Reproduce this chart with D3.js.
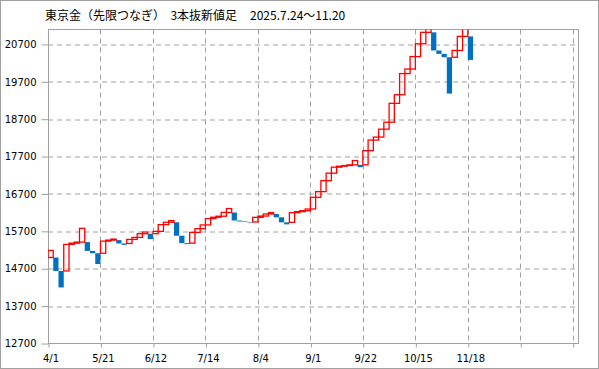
<!DOCTYPE html>
<html>
<head>
<meta charset="utf-8">
<script src="https://cdn.jsdelivr.net/npm/d3@7"></script>
<style>
  body { margin: 0; background: #fff; }
  svg { display: block; }
  .axis text { font-family: "DejaVu Sans", sans-serif; font-size: 10px; fill: #000; }
  .axis path { display: none; }
  .axis line { stroke: #a0a0a0; }
</style>
</head>
<body>
<div class="chart"></div>
<script>
// three line break columns (open / close of each line)
var lineOpen = [
    15000, 15000, 14640, 14640, 15350, 15385, 15412, 15412, 15177, 15114,
    15114, 15439, 15466, 15466, 15376, 15376, 15484, 15538, 15637, 15637,
    15637, 15700, 15880, 15943, 15943, 15583, 15385, 15385, 15673, 15772,
    15871, 16042, 16078, 16105, 16205, 16205, 15990, 15965, 15950, 15950,
    16075, 16110, 16164, 16164, 16075, 15941, 15941, 16200, 16227, 16253,
    16298, 16611, 16763, 17057, 17257, 17417, 17443, 17461, 17479, 17479,
    17479, 17859, 18142, 18222, 18434, 18620, 19125, 19355, 19921, 20043,
    20376, 20718, 21024, 21024, 20538, 20448, 20358, 20358, 20538, 20916,
    20916
];
var lineClose = [
    15190, 14640, 14200, 15350, 15385, 15412, 15781, 15177, 15114, 14826,
    15439, 15466, 15493, 15376, 15340, 15484, 15538, 15637, 15682, 15493,
    15700, 15880, 15943, 15988, 15583, 15385, 15358, 15673, 15772, 15871,
    16042, 16078, 16105, 16205, 16310, 15990, 15965, 15950, 15935, 16075,
    16110, 16164, 16200, 16075, 15941, 15887, 16200, 16227, 16253, 16298,
    16611, 16763, 17057, 17257, 17417, 17443, 17461, 17479, 17594, 17417,
    17859, 18142, 18222, 18434, 18620, 19125, 19355, 19921, 20043, 20376,
    20718, 21024, 21200, 20538, 20448, 20358, 19386, 20538, 20916, 21250,
    20286
];
var tickCols = [0, 10, 20, 30, 40, 50, 60, 70, 80, 90, 100];
var tickLabels = ["4/1", "5/21", "6/12", "7/14", "8/4", "9/1", "9/22", "10/15", "11/18", "", ""];
var yTicks = [12700, 13700, 14700, 15700, 16700, 17700, 18700, 19700, 20700];
var titleMain = "東京金（先限つなぎ）  3本抜新値足";
var titleDates = "2025.7.24〜11.20";

var svgWidth = 599, svgHeight = 369;
var margin = { top: 29.5, right: 21, bottom: 25.5, left: 48 };
var width = svgWidth - margin.left - margin.right;
var height = svgHeight - margin.top - margin.bottom;

var svg = d3.select(".chart")
    .append("svg")
    .attr("width", svgWidth)
    .attr("height", svgHeight);

// outer border
svg.append("rect")
    .attr("x", 0.5).attr("y", 0.5)
    .attr("width", svgWidth - 1).attr("height", svgHeight - 1)
    .attr("fill", "none")
    .attr("stroke", "#a0a0a0");

var titleText = svg.append("text")
    .attr("x", 45)
    .attr("y", 20)
    .style("font-family", "'Noto Sans CJK JP', sans-serif")
    .style("font-size", "12px")
    .style("white-space", "pre");
titleText.append("tspan").text(titleMain);
titleText.append("tspan").attr("x", 250).text(titleDates);

var chartGroup = svg.append("g")
    .attr("transform", `translate(${margin.left}, ${margin.top})`);

var xScale = d3.scaleLinear()
    .domain([0, 101])
    .range([0, width]);

var yScale = d3.scaleLinear()
    .domain([12700, 21100])
    .range([height, 0]);

// gridlines
chartGroup.append("g")
    .attr("class", "grid")
    .selectAll("line.h")
    .data(yTicks.slice(1))
    .enter()
    .append("line")
    .attr("x1", 0).attr("x2", width)
    .attr("y1", d => Math.round(yScale(d)) + 0.5)
    .attr("y2", d => Math.round(yScale(d)) + 0.5)
    .attr("stroke", "#a0a0a0")
    .attr("stroke-dasharray", "5,4");

chartGroup.append("g")
    .attr("class", "grid")
    .selectAll("line.v")
    .data(tickCols.slice(1))
    .enter()
    .append("line")
    .attr("y1", 0).attr("y2", height)
    .attr("x1", d => Math.round(xScale(d)) + 0.5)
    .attr("x2", d => Math.round(xScale(d)) + 0.5)
    .attr("stroke", "#a0a0a0")
    .attr("stroke-dasharray", "5,4");

// axes
var leftAxis = d3.axisLeft(yScale)
    .tickValues(yTicks)
    .tickSize(7)
    .tickPadding(5)
    .tickFormat(d3.format("d"))
    .offset(0.5);

chartGroup.append("g")
    .attr("class", "axis")
    .attr("transform", "translate(0.5, 0)")
    .call(leftAxis);

var bottomAxis = d3.axisBottom(xScale)
    .tickValues(tickCols)
    .tickSize(4)
    .tickPadding(7)
    .tickFormat((d, i) => tickLabels[i]);

chartGroup.append("g")
    .attr("class", "axis")
    .attr("transform", `translate(0.5, ${height})`)
    .call(bottomAxis)
    .selectAll("text")
    .attr("dx", 2);

// plot frame
chartGroup.append("rect")
    .attr("x", 0.5).attr("y", 0)
    .attr("width", width).attr("height", height)
    .attr("fill", "none")
    .attr("stroke", "#a0a0a0");

svg.append("clipPath")
    .attr("id", "plotClip")
    .append("rect")
    .attr("x", 0).attr("y", 0)
    .attr("width", width + 1).attr("height", height);

var cols = lineOpen.map((o, i) => ({ i: i, open: o, close: lineClose[i] }));

var boxGroup = chartGroup.append("g")
    .attr("clip-path", "url(#plotClip)");

// falling lines: solid blue
boxGroup.selectAll("rect.down")
    .data(cols.filter(d => d.close < d.open))
    .enter()
    .append("rect")
    .attr("x", d => xScale(d.i))
    .attr("width", d => xScale(d.i + 1) - xScale(d.i))
    .attr("y", d => yScale(d.open))
    .attr("height", d => yScale(d.close) - yScale(d.open))
    .attr("fill", "#0070c0");

// rising lines: hollow red
boxGroup.selectAll("rect.up")
    .data(cols.filter(d => d.close >= d.open))
    .enter()
    .append("rect")
    .attr("x", d => xScale(d.i))
    .attr("width", d => xScale(d.i + 1) - xScale(d.i))
    .attr("y", d => yScale(d.close))
    .attr("height", d => yScale(d.open) - yScale(d.close))
    .attr("fill", "none")
    .attr("stroke", "#ff0000")
    .attr("stroke-width", 1.3);
</script>
</body>
</html>
